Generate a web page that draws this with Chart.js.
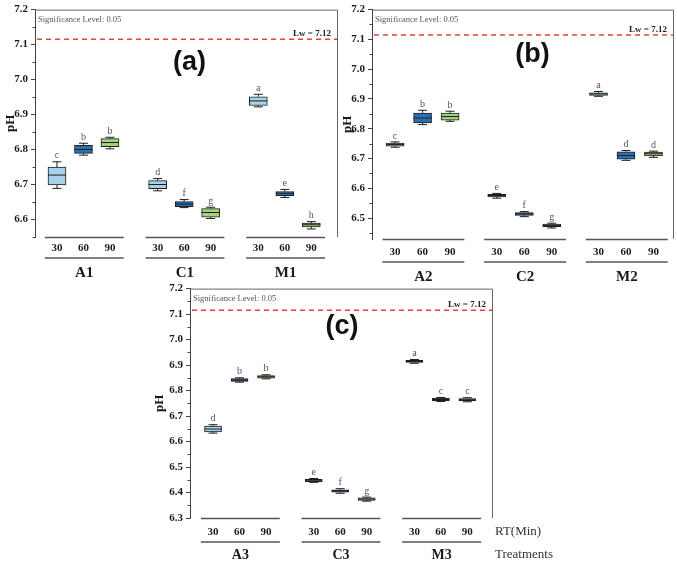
<!DOCTYPE html>
<html>
<head>
<meta charset="utf-8">
<script src="https://cdn.jsdelivr.net/npm/chart.js@4.4.0/dist/chart.umd.min.js"></script>
<style>
  body { margin: 0; background: #fff; width: 677px; height: 563px; position: relative; overflow: hidden; }
  canvas { position: absolute; }
</style>
</head>
<body>
<canvas id="chartA" width="340" height="284" style="left:0;top:0"></canvas>
<canvas id="chartB" width="337" height="284" style="left:340px;top:0"></canvas>
<canvas id="chartC" width="420" height="284" style="left:150px;top:279px"></canvas>
<script>
// tempi di ritenzione (etichette sotto ogni box)
var rtLabels = ['30', '60', '90'];

// pannello (a)
var groupsA = ['A1', 'C1', 'M1'];
var lowA  = [6.689, 6.784, 6.802, 6.682, 6.634, 6.603, 6.922, 6.663, 6.573];
var q1A   = [6.699, 6.789, 6.808, 6.688, 6.637, 6.607, 6.926, 6.668, 6.579];
var medA  = [6.727, 6.800, 6.820, 6.700, 6.644, 6.620, 6.939, 6.675, 6.585];
var q3A   = [6.750, 6.812, 6.831, 6.711, 6.651, 6.631, 6.951, 6.680, 6.590];
var highA = [6.765, 6.818, 6.835, 6.717, 6.657, 6.635, 6.958, 6.686, 6.594];
var lettersA = ['c', 'b', 'b', 'd', 'f', 'g', 'a', 'e', 'h'];
var yTicksA = [6.6, 6.7, 6.8, 6.9, 7.0, 7.1, 7.2];

// pannello (b)
var groupsB = ['A2', 'C2', 'M2'];
var lowB  = [6.738, 6.814, 6.825, 6.567, 6.505, 6.467, 6.909, 6.694, 6.704];
var q1B   = [6.742, 6.820, 6.829, 6.571, 6.509, 6.471, 6.912, 6.698, 6.709];
var medB  = [6.747, 6.836, 6.841, 6.576, 6.514, 6.475, 6.917, 6.710, 6.716];
var q3B   = [6.752, 6.853, 6.853, 6.580, 6.519, 6.480, 6.921, 6.723, 6.722];
var highB = [6.756, 6.862, 6.859, 6.583, 6.522, 6.483, 6.925, 6.727, 6.725];
var lettersB = ['c', 'b', 'b', 'e', 'f', 'g', 'a', 'd', 'd'];
var yTicksB = [6.5, 6.6, 6.7, 6.8, 6.9, 7.0, 7.1, 7.2];

// pannello (c)
var groupsC = ['A3', 'C3', 'M3'];
var lowC  = [6.633, 6.833, 6.846, 6.440, 6.397, 6.366, 6.907, 6.757, 6.756];
var q1C   = [6.638, 6.836, 6.849, 6.443, 6.401, 6.369, 6.910, 6.760, 6.760];
var medC  = [6.649, 6.841, 6.854, 6.448, 6.406, 6.374, 6.914, 6.765, 6.764];
var q3C   = [6.661, 6.847, 6.859, 6.452, 6.411, 6.379, 6.919, 6.770, 6.769];
var highC = [6.666, 6.850, 6.862, 6.455, 6.415, 6.382, 6.922, 6.773, 6.772];
var lettersC = ['d', 'b', 'b', 'e', 'f', 'g', 'a', 'c', 'c'];
var yTicksC = [6.3, 6.4, 6.5, 6.6, 6.7, 6.8, 6.9, 7.0, 7.1, 7.2];

// limite Lw e livello di significativita
var lwValue = 7.115;
var lwText = 'Lw = 7.12';
var sigText = 'Significance Level: 0.05';

var boxColors = ['#a8d1ec', '#2a6fb4', '#a3d47c'];
var serif = "'Liberation Serif', 'Times New Roman', serif";

// plugin che disegna baffi, mediane, lettere, cornice e gruppi
function extras(p) {
  return {
    id: 'extras',
    afterDatasetsDraw: function(chart) {
      var ctx = chart.ctx;
      var xs = chart.scales.x, ys = chart.scales.y;
      var area = chart.chartArea;
      ctx.save();

      // cornice in alto e a destra
      ctx.strokeStyle = '#666';
      ctx.lineWidth = 1;
      ctx.beginPath();
      ctx.moveTo(area.left, area.top + 0.5);
      ctx.lineTo(area.right + 0.5, area.top + 0.5);
      ctx.lineTo(area.right + 0.5, area.bottom);
      ctx.stroke();

      // tacche minori sull'asse y
      ctx.strokeStyle = '#444';
      for (var v = p.yMin; v < 7.2; v += 0.05) {
        var r = Math.round(v * 20) / 20;
        if (Math.abs(r * 10 - Math.round(r * 10)) < 1e-6 || r < p.yMin) continue;
        var yy = Math.round(ys.getPixelForValue(r)) + 0.5;
        ctx.beginPath();
        ctx.moveTo(area.left - 2.5, yy);
        ctx.lineTo(area.left, yy);
        ctx.stroke();
      }

      // baffi e mediane
      ctx.strokeStyle = '#1e1e1e';
      ctx.lineWidth = 1;
      for (var k = 0; k < p.med.length; k++) {
        var x = xs.getPixelForValue(p.xPos[k]);
        var yLo = ys.getPixelForValue(p.low[k]);
        var yQ1 = ys.getPixelForValue(p.q1[k]);
        var yMed = ys.getPixelForValue(p.med[k]);
        var yQ3 = ys.getPixelForValue(p.q3[k]);
        var yHi = ys.getPixelForValue(p.high[k]);
        ctx.beginPath();
        ctx.moveTo(x, yQ3); ctx.lineTo(x, yHi);
        ctx.moveTo(x, yQ1); ctx.lineTo(x, yLo);
        ctx.moveTo(x - p.capW / 2, yHi); ctx.lineTo(x + p.capW / 2, yHi);
        ctx.moveTo(x - p.capW / 2, yLo); ctx.lineTo(x + p.capW / 2, yLo);
        ctx.moveTo(x - p.boxW / 2, yMed); ctx.lineTo(x + p.boxW / 2, yMed);
        ctx.stroke();

        ctx.fillStyle = '#555';
        ctx.font = '10px ' + serif;
        ctx.textAlign = 'center';
        ctx.textBaseline = 'bottom';
        ctx.fillText(p.letters[k], x, yHi - 1);
      }

      // linea Lw
      var yLw = ys.getPixelForValue(lwValue);
      ctx.strokeStyle = '#e8413c';
      ctx.lineWidth = 1.5;
      ctx.setLineDash([5, 4]);
      ctx.beginPath();
      ctx.moveTo(area.left + 2, yLw);
      ctx.lineTo(area.right, yLw);
      ctx.stroke();
      ctx.setLineDash([]);

      ctx.fillStyle = '#222';
      ctx.font = 'bold 9px ' + serif;
      ctx.textAlign = 'right';
      ctx.textBaseline = 'bottom';
      ctx.fillText(lwText, area.right - 6, yLw - 1);

      ctx.fillStyle = '#555';
      ctx.font = '8.5px ' + serif;
      ctx.textAlign = 'left';
      ctx.textBaseline = 'middle';
      ctx.fillText(sigText, area.left + 3, area.top + 10);

      // titolo del pannello
      ctx.fillStyle = '#111';
      ctx.font = 'bold 27px "Liberation Sans", Arial, sans-serif';
      ctx.textAlign = 'center';
      ctx.textBaseline = 'middle';
      ctx.fillText(p.title, xs.getPixelForValue(p.titleX), ys.getPixelForValue(7.05));

      // linee e nomi dei gruppi
      ctx.strokeStyle = '#555';
      ctx.lineWidth = 1.5;
      for (var g = 0; g < p.groups.length; g++) {
        var x0 = xs.getPixelForValue(p.xPos[g * 3] - 0.46);
        var x1 = xs.getPixelForValue(p.xPos[g * 3 + 2] + 0.52);
        var yTop = area.bottom + 0.5;
        var yMid = area.bottom + p.lineOff;
        ctx.beginPath();
        ctx.moveTo(x0, yTop); ctx.lineTo(x1, yTop);
        ctx.moveTo(x0, yMid); ctx.lineTo(x1, yMid);
        ctx.stroke();
        ctx.fillStyle = '#1a1a1a';
        ctx.font = 'bold ' + p.groupFont + 'px ' + serif;
        ctx.textAlign = 'center';
        ctx.textBaseline = 'middle';
        ctx.fillText(p.groups[g], (x0 + x1) / 2, area.bottom + p.groupOff);
      }

      if (p.axisNames) {
        ctx.fillStyle = '#333';
        ctx.font = '13px ' + serif;
        ctx.textAlign = 'left';
        ctx.textBaseline = 'middle';
        ctx.fillText('RT(Min)', area.right + 3, area.bottom + p.tickOff);
        ctx.fillText('Treatments', area.right + 3, area.bottom + p.groupOff);
      }
      ctx.restore();
    }
  };
}

function makePanel(id, p) {
  p.xPos = p.q1.map(function(v, k) { return Math.floor(k / 3) * p.gap + (k % 3); });
  return new Chart(document.getElementById(id), {
    type: 'bar',
    data: {
      datasets: [{
        data: p.q1.map(function(v, k) { return { x: p.xPos[k], y: [v, p.q3[k]] }; }),
        backgroundColor: p.q1.map(function(v, k) { return boxColors[k % 3]; }),
        borderColor: '#1e1e1e',
        borderWidth: 1,
        borderSkipped: false,
        barThickness: p.boxW
      }]
    },
    options: {
      responsive: false,
      animation: false,
      layout: { padding: { top: p.padTop, right: p.padRight, left: 0, bottom: 0 } },
      plugins: { legend: { display: false }, tooltip: { enabled: false } },
      scales: {
        x: {
          type: 'linear', offset: false, min: p.xMin, max: p.xMax,
          grid: { display: false, drawTicks: false },
          border: { display: false },
          afterBuildTicks: function(s) { s.ticks = p.xPos.map(function(v) { return { value: v }; }); },
          afterFit: function(s) { s.height = p.xAxisH; },
          ticks: {
            autoSkip: false, maxRotation: 0, padding: p.tickOff - 6.6, color: '#1a1a1a',
            font: { family: serif, size: 11, weight: 'bold' },
            callback: function(v, i) { return rtLabels[i % 3]; }
          }
        },
        y: {
          min: p.yMin, max: 7.2,
          grid: { drawOnChartArea: false, drawTicks: true, tickLength: 4, color: '#444' },
          border: { color: '#444', width: 1 },
          afterBuildTicks: function(s) { s.ticks = p.yTicks.map(function(v) { return { value: v }; }); },
          afterFit: function(s) { s.width = p.yAxisW; },
          ticks: {
            padding: 3, color: '#1a1a1a',
            font: { family: serif, size: 11, weight: 'bold' },
            callback: function(v) { return v.toFixed(1); }
          },
          title: {
            display: true, text: 'pH', color: '#1a1a1a',
            font: { family: serif, size: 13, weight: 'bold' },
            padding: { top: p.titlePad, bottom: 0 }
          }
        }
      }
    },
    plugins: [extras(p)]
  });
}

makePanel('chartA', {
  title: '(a)', groups: groupsA, letters: lettersA, yTicks: yTicksA,
  low: lowA, q1: q1A, med: medA, q3: q3A, high: highA,
  gap: 3.8, xMin: -0.83, xMax: 10.57, yMin: 6.55, titleX: 5.0,
  padTop: 7, padRight: 3, yAxisW: 35, xAxisH: 47, titlePad: 3,
  boxW: 18, capW: 9, tickOff: 11, lineOff: 21, groupOff: 36, groupFont: 15
});

makePanel('chartB', {
  title: '(b)', groups: groupsB, letters: lettersB, yTicks: yTicksB,
  low: lowB, q1: q1B, med: medB, q3: q3B, high: highB,
  gap: 3.7, xMin: -0.84, xMax: 10.11, yMin: 6.43, titleX: 5.0,
  padTop: 7, padRight: 4, yAxisW: 32, xAxisH: 45, titlePad: 0,
  boxW: 18, capW: 9, tickOff: 13, lineOff: 23, groupOff: 38, groupFont: 15
});

makePanel('chartC', {
  title: '(c)', groups: groupsC, letters: lettersC, yTicks: yTicksC,
  low: lowC, q1: q1C, med: medC, q3: q3C, high: highC,
  gap: 3.8, xMin: -0.87, xMax: 10.53, yMin: 6.3, titleX: 4.87,
  padTop: 6, padRight: 78, yAxisW: 40, xAxisH: 45, titlePad: 2,
  boxW: 17, capW: 9, tickOff: 14, lineOff: 24, groupOff: 37, groupFont: 14,
  axisNames: true
});
</script>
</body>
</html>
